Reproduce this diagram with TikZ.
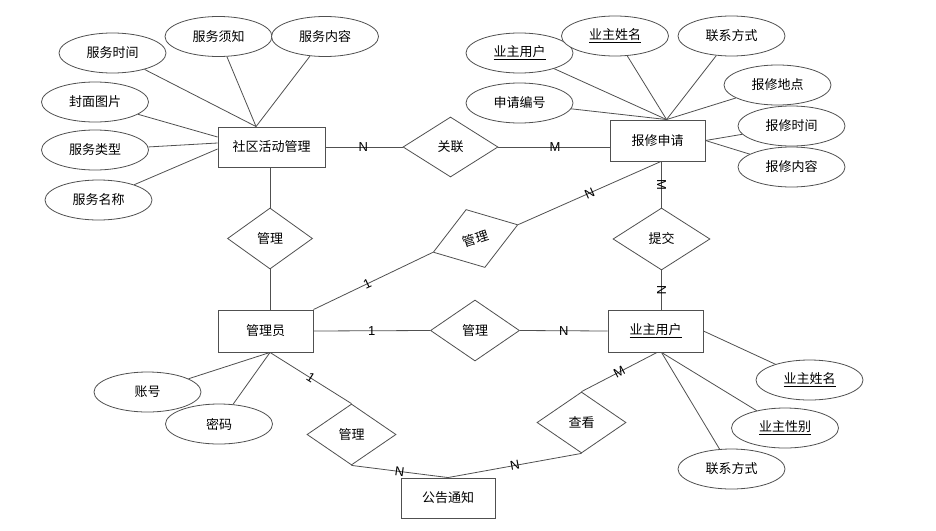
\documentclass[tikz,border=0pt]{standalone}
\usepackage{fontspec}
\setmainfont{Liberation Sans}
\newfontfamily\cjk{Noto Sans CJK SC}
\usetikzlibrary{shapes.geometric,calc}
\definecolor{lc}{HTML}{505050}
\begin{document}
\begin{tikzpicture}[x=1pt,y=-1pt,
  every node/.style={font=\cjk\fontsize{13}{15}\selectfont, text=black},
  ent/.style={draw=lc, line width=0.9pt, fill=white, rectangle, minimum width=95pt, minimum height=41pt, inner sep=0pt},
  attr/.style={draw=lc, line width=0.8pt, fill=white, ellipse, minimum width=107pt, minimum height=40pt, inner sep=0pt},
  rel/.style={draw=lc, line width=0.8pt, fill=white, diamond, minimum width=89pt, minimum height=61pt, inner sep=0pt},
  card/.style={font=\fontsize{13}{15}\selectfont, inner sep=0pt},
  ln/.style={draw=lc, line width=0.8pt}]
\useasboundingbox[fill=white] (0,0) rectangle (936,530);

% entities
\node[ent, minimum width=107pt, minimum height=40pt] (svc) at (271.5,147) {社区活动管理};
\node[ent] (bx) at (657.5,140.5) {报修申请};
\node[ent, minimum height=42pt] (adm) at (265.5,331) {管理员};
\node[ent, minimum height=42pt] (yz) at (655.5,331) {\underline{业主用户}};
\node[ent, minimum width=94pt, minimum height=40pt] (gg) at (448,498) {公告通知};

% relations
\node[rel, minimum width=95pt, minimum height=60pt] (gl) at (450.5,147) {关联};
\node[rel, minimum width=85pt] (m1) at (270,238.5) {管理};
\node[rel, rotate=18] (m2) at (475.5,238.5) {管理};
\node[rel, minimum width=97pt, minimum height=62pt] (tj) at (661.5,239) {提交};
\node[rel] (m4) at (475,330.5) {管理};
\node[rel] (ck) at (581.5,422.5) {查看};
\node[rel] (m3) at (351.5,434.5) {管理};

% attributes
\node[attr] (a1) at (112.5,53) {服务时间};
\node[attr] (a2) at (218.5,36.5) {服务须知};
\node[attr] (a3) at (325,36.5) {服务内容};
\node[attr] (a4) at (95,102) {封面图片};
\node[attr] (a5) at (95,150) {服务类型};
\node[attr] (a6) at (98.5,200) {服务名称};
\node[attr] (b1) at (519.5,53) {\underline{业主用户}};
\node[attr] (b2) at (615,36) {\underline{业主姓名}};
\node[attr] (b3) at (731.5,36) {联系方式};
\node[attr] (b4) at (519.5,103) {申请编号};
\node[attr] (b5) at (777.5,85) {报修地点};
\node[attr] (b6) at (791.5,126) {报修时间};
\node[attr] (b7) at (791.5,167) {报修内容};
\node[attr] (c1) at (809.5,380) {\underline{业主姓名}};
\node[attr] (c2) at (785,428) {\underline{业主性别}};
\node[attr] (c3) at (731.5,469) {联系方式};
\node[attr] (d1) at (147.5,392) {账号};
\node[attr] (d2) at (219,424) {密码};

% connection points
\coordinate (svcT) at ($(svc.north west)+(38.5,0)$);
\coordinate (svcL1) at ($(svc.west)+(0,-10)$);
\coordinate (svcL2) at ($(svc.west)+(0,-4)$);
\coordinate (svcL3) at ($(svc.west)+(0,2)$);
\coordinate (bxT) at ($(bx.north west)+(57,0)$);
\coordinate (bxB) at ($(bx.south)+(3.5,0)$);
\coordinate (admB) at ($(adm.south)+(4.5,0)$);
\coordinate (yzB) at ($(yz.south)+(6,0)$);
\coordinate (yzB2) at ($(yz.south)+(1.5,0)$);

% attribute lines
\draw[ln] (a1) -- (svcT);
\draw[ln] (a2) -- (svcT);
\draw[ln] (a3) -- (svcT);
\draw[ln] (a4) -- (svcL1);
\draw[ln] (a5) -- (svcL2);
\draw[ln] (a6) -- (svcL3);
\draw[ln] (b1) -- (bxT);
\draw[ln] (b2) -- (bxT);
\draw[ln] (b3) -- (bxT);
\draw[ln] (b4) -- (bxT);
\draw[ln] (b5) -- (bxT);
\draw[ln] (b6) -- (bx.east);
\draw[ln] (b7) -- (bx.east);
\draw[ln] (c1) -- (yz.east);
\draw[ln] (c2) -- (yzB);
\draw[ln] (c3) -- (yzB);
\draw[ln] (d1) -- (admB);
\draw[ln] (d2) -- (admB);

% relationship lines
\draw[ln] (svc.east) -- node[card,pos=0.49]{N} (gl.west);
\draw[ln] (gl.east) -- node[card,pos=0.51]{M} (gl.east -| bx.west);
\draw[ln] (m1.north |- svc.south) -- (m1.north);
\draw[ln] (m1.south) -- (m1.south |- adm.north);
\draw[ln] (adm.north east) -- node[card,pos=0.45,rotate=25]{1} (m2.west);
\draw[ln] (m2.east) -- node[card,pos=0.5,rotate=24]{N} (bxB);
\draw[ln] (tj.north |- bx.south) -- node[card,rotate=-90]{M} (tj.north);
\draw[ln] (tj.south) -- node[card,rotate=-90]{N} (tj.south |- yz.north);
\draw[ln] (adm.east) -- node[card]{1} (m4.west);
\draw[ln] (m4.east) -- node[card]{N} (yz.west);
\draw[ln] (admB) -- node[card,rotate=-32]{1} (m3.north);
\draw[ln] (m3.south) -- node[card,rotate=-8]{N} (gg.north);
\draw[ln] (gg.north) -- node[card,rotate=11]{N} (ck.south);
\draw[ln] (ck.north) -- node[card,rotate=28]{M} (yzB2);
\end{tikzpicture}
\end{document}
